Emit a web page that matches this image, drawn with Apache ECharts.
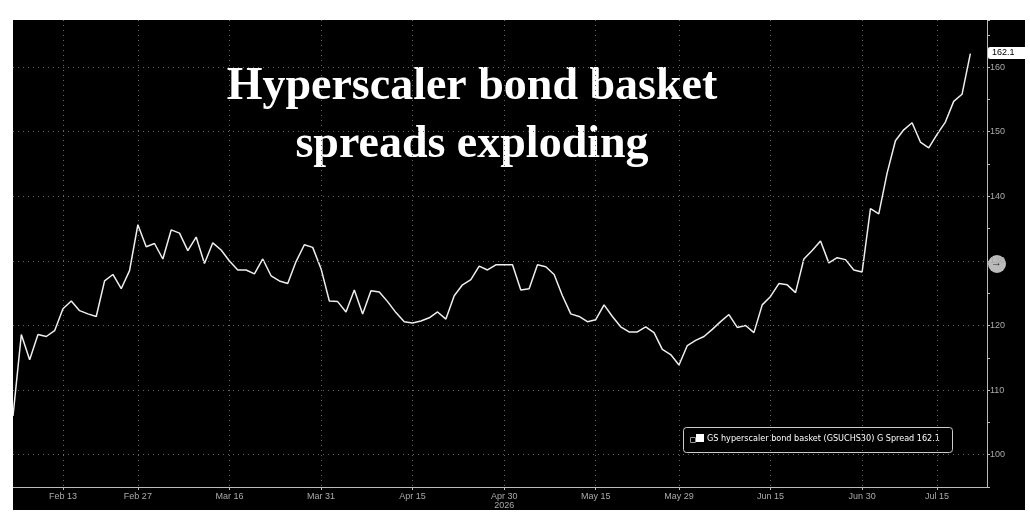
<!DOCTYPE html>
<html><head><meta charset="utf-8">
<script src="https://cdn.jsdelivr.net/npm/echarts@6/dist/echarts.min.js"></script>
<style>
body{margin:0;background:#fff;width:1030px;height:532px;overflow:hidden;}
#c{position:absolute;left:13px;top:20px;width:1012px;height:490px;}
</style></head><body>
<div id="c"></div>
<script>
var spread = [106.0,118.6,114.7,118.6,118.3,119.2,122.6,123.8,122.3,121.8,121.4,126.9,127.9,125.7,128.5,135.6,
  132.2,132.7,130.3,134.8,134.3,131.6,133.7,129.6,132.8,131.7,130.0,128.6,128.6,128.0,130.3,127.7,126.9,126.5,
  129.9,132.5,132.1,128.8,123.8,123.7,122.1,125.5,121.8,125.4,125.2,123.7,122.0,120.6,120.4,120.7,121.2,122.1,
  121.0,124.6,126.3,127.1,129.2,128.6,129.4,129.4,129.4,125.5,125.7,129.4,129.1,127.9,124.6,121.8,121.4,120.6,
  120.9,123.2,121.4,119.8,119.0,119.0,119.8,118.9,116.3,115.5,113.9,116.9,117.7,118.3,119.4,120.6,121.7,119.7,
  120.0,118.9,123.2,124.5,126.5,126.3,125.1,130.3,131.6,133.1,129.7,130.5,130.2,128.6,128.3,138.1,137.3,143.6,
  148.6,150.3,151.4,148.4,147.5,149.6,151.5,154.7,155.8,162.1];
var tickIdx = [6, 15, 26, 37, 48, 59, 70, 80, 91, 102, 111];
var tickLabels = ['Feb 13','Feb 27','Mar 16','Mar 31','Apr 15','Apr 30\n2026','May 15','May 29','Jun 15','Jun 30','Jul 15'];
var gridValues = [100, 110, 120, 130, 140, 150, 160];
var seriesName = 'GS hyperscaler bond basket (GSUCHS30) G Spread';
var lastValue = spread[spread.length - 1];

// two empty slots after the last point leave the gap before the right axis
var categories = spread.map(function (v, i) { return i; }).concat([spread.length, spread.length + 1]);
function labelOf(i) { var k = tickIdx.indexOf(i); return k < 0 ? '' : tickLabels[k]; }
function isTick(i) { return tickIdx.indexOf(i) >= 0; }

var chart = echarts.init(document.getElementById('c'));
chart.setOption({
    backgroundColor: '#000',
    animation: false,
    grid: { left: 0, right: 38, top: 0, bottom: 22 },
    xAxis: {
        type: 'category',
        data: categories,
        boundaryGap: false,
        axisLine: { lineStyle: { color: '#bbb' } },
        axisTick: { interval: isTick, length: 3, lineStyle: { color: '#bbb' } },
        axisLabel: {
            interval: isTick,
            formatter: function (v) { return labelOf(+v); },
            color: '#aaa', fontSize: 9, margin: 5, lineHeight: 9
        },
        splitLine: { show: true, interval: isTick, lineStyle: { color: '#666', type: [1, 4] } }
    },
    yAxis: {
        type: 'value',
        position: 'right',
        min: 95, max: 167.3, interval: 5,
        axisLine: { show: true, lineStyle: { color: '#bbb' } },
        axisTick: { show: true, length: 3, lineStyle: { color: '#bbb' } },
        axisLabel: {
            color: '#aaa', fontSize: 9, margin: 3,
            formatter: function (v) { return v % 10 === 0 ? v : ''; }
        },
        splitLine: { show: false }
    },
    series: [{
        name: seriesName,
        type: 'line',
        data: spread,
        symbol: 'none',
        lineStyle: { color: '#eee', width: 1.5 },
        markLine: {
            silent: true, symbol: 'none', label: { show: false },
            lineStyle: { color: '#666', type: [1, 4], width: 1 },
            data: gridValues.map(function (v) { return { yAxis: v }; })
        }
    }],
    graphic: [
        { type: 'text', x: 459, y: 38, style: {
            text: 'Hyperscaler bond basket\nspreads exploding',
            font: 'bold 46px "Liberation Serif", serif', fill: '#fff', align: 'center', lineHeight: 58,
            shadowColor: 'rgba(255,255,255,0.8)', shadowBlur: 8 } },
        { type: 'rect', left: 670, top: 407, shape: { width: 269, height: 25, r: 3 },
          style: { fill: '#000', stroke: '#ccc', lineWidth: 1 } },
        { type: 'rect', left: 675, top: 415, shape: { width: 5, height: 5 }, style: { fill: 'none', stroke: '#999' } },
        { type: 'rect', left: 683, top: 414, shape: { width: 8, height: 8 }, style: { fill: '#fff' } },
        { type: 'text', left: 694, top: 414, style: {
            text: seriesName + ' ' + lastValue, font: '9px "DejaVu Sans Condensed", sans-serif', fill: '#fff' } },
        { type: 'rect', left: 975, top: 27, shape: { width: 40, height: 12, r: 2 }, style: { fill: '#fff' } },
        { type: 'text', left: 979, top: 28, style: { text: String(lastValue), font: '9px sans-serif', fill: '#000' } },
        { type: 'circle', shape: { cx: 984, cy: 244, r: 9 }, style: { fill: '#bbb' } },
        { type: 'text', left: 978, top: 237, style: { text: '→', font: '11px sans-serif', fill: '#222' } }
    ]
});
</script>
</body></html>
